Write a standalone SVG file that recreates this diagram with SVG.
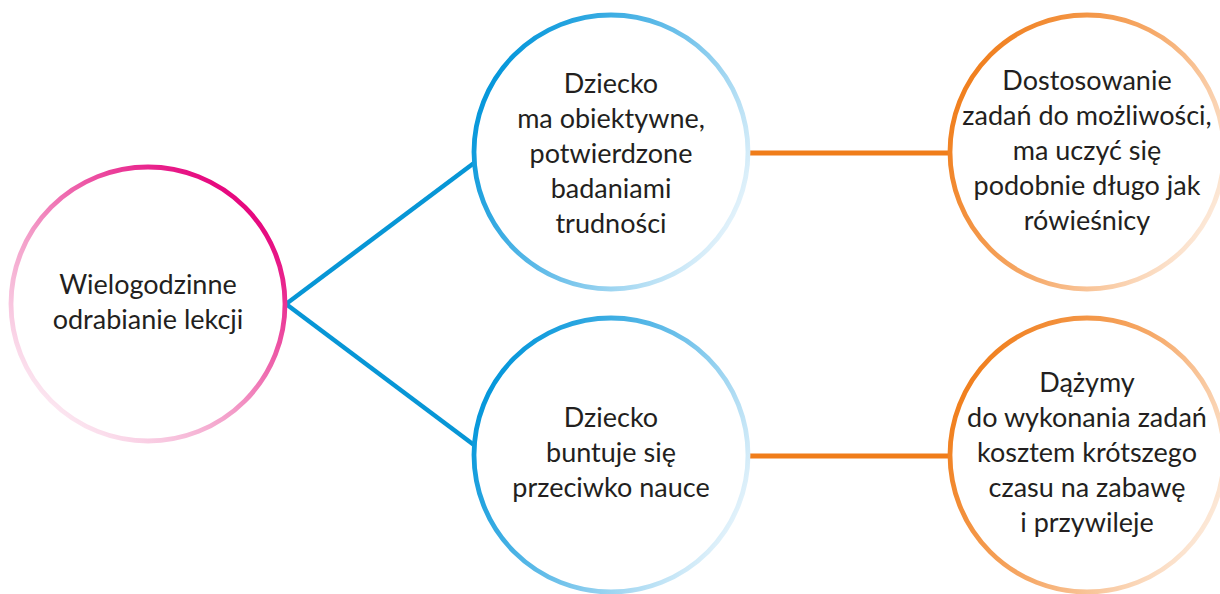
<svg xmlns="http://www.w3.org/2000/svg" width="1220" height="594" viewBox="0 0 1220 594">
  <defs>
    <linearGradient id="gPink" x1="0.15" y1="0.95" x2="0.85" y2="0.15">
      <stop offset="0" stop-color="#FDF0F6"/>
      <stop offset="0.45" stop-color="#F39CC8"/>
      <stop offset="1" stop-color="#E6097F"/>
    </linearGradient>
    <linearGradient id="gBlue" x1="0" y1="0.3" x2="1" y2="0.8">
      <stop offset="0" stop-color="#0095DA"/>
      <stop offset="0.5" stop-color="#6CC0EA"/>
      <stop offset="1" stop-color="#F3F9FD"/>
    </linearGradient>
    <linearGradient id="gOrange" x1="0" y1="0.3" x2="1" y2="0.8">
      <stop offset="0" stop-color="#F07D1A"/>
      <stop offset="0.5" stop-color="#F6AA6A"/>
      <stop offset="1" stop-color="#FDF1E7"/>
    </linearGradient>
  </defs>
  <style>
    .node circle { fill: #FFFFFF; stroke-width: 4.8; }
    .pink { stroke: url(#gPink); }
    .blue { stroke: url(#gBlue); }
    .orange { stroke: url(#gOrange); }
    text { font-family: Lato, "Open Sans", "Liberation Sans", sans-serif; font-size: 27px; fill: #231F20; text-anchor: middle; }
    .cb { stroke: #0796D6; stroke-width: 4.5; fill: none; }
    .co { stroke: #F07D1A; stroke-width: 5; fill: none; }
  </style>
  <rect width="1220" height="594" fill="#FFFFFF"/>
  <g id="connectors">
    <line class="cb" x1="286" y1="304" x2="474" y2="163"/>
    <line class="cb" x1="286" y1="304" x2="474" y2="445"/>
    <line class="co" x1="748" y1="153" x2="951" y2="153"/>
    <line class="co" x1="748" y1="456" x2="951" y2="456"/>
  </g>
  <g id="node-root" class="node">
    <circle class="pink" cx="148" cy="304" r="137"/>
    <text x="148" y="294">Wielogodzinne</text>
    <text x="148" y="329">odrabianie lekcji</text>
  </g>
  <g id="node-top-mid" class="node">
    <circle class="blue" cx="611" cy="152" r="137"/>
    <text x="611" y="93">Dziecko</text>
    <text x="611" y="128">ma obiektywne,</text>
    <text x="611" y="163">potwierdzone</text>
    <text x="611" y="198">badaniami</text>
    <text x="611" y="233">trudności</text>
  </g>
  <g id="node-bottom-mid" class="node">
    <circle class="blue" cx="611" cy="455" r="137"/>
    <text x="611" y="427">Dziecko</text>
    <text x="611" y="462">buntuje się</text>
    <text x="611" y="497">przeciwko nauce</text>
  </g>
  <g id="node-top-right" class="node">
    <circle class="orange" cx="1087" cy="152" r="137"/>
    <text x="1087" y="90">Dostosowanie</text>
    <text x="1087" y="125">zadań do możliwości,</text>
    <text x="1087" y="160">ma uczyć się</text>
    <text x="1087" y="195">podobnie długo jak</text>
    <text x="1087" y="230">rówieśnicy</text>
  </g>
  <g id="node-bottom-right" class="node">
    <circle class="orange" cx="1087" cy="455" r="137"/>
    <text x="1087" y="392">Dążymy</text>
    <text x="1087" y="427">do wykonania zadań</text>
    <text x="1087" y="462">kosztem krótszego</text>
    <text x="1087" y="497">czasu na zabawę</text>
    <text x="1087" y="532">i przywileje</text>
  </g>
</svg>
